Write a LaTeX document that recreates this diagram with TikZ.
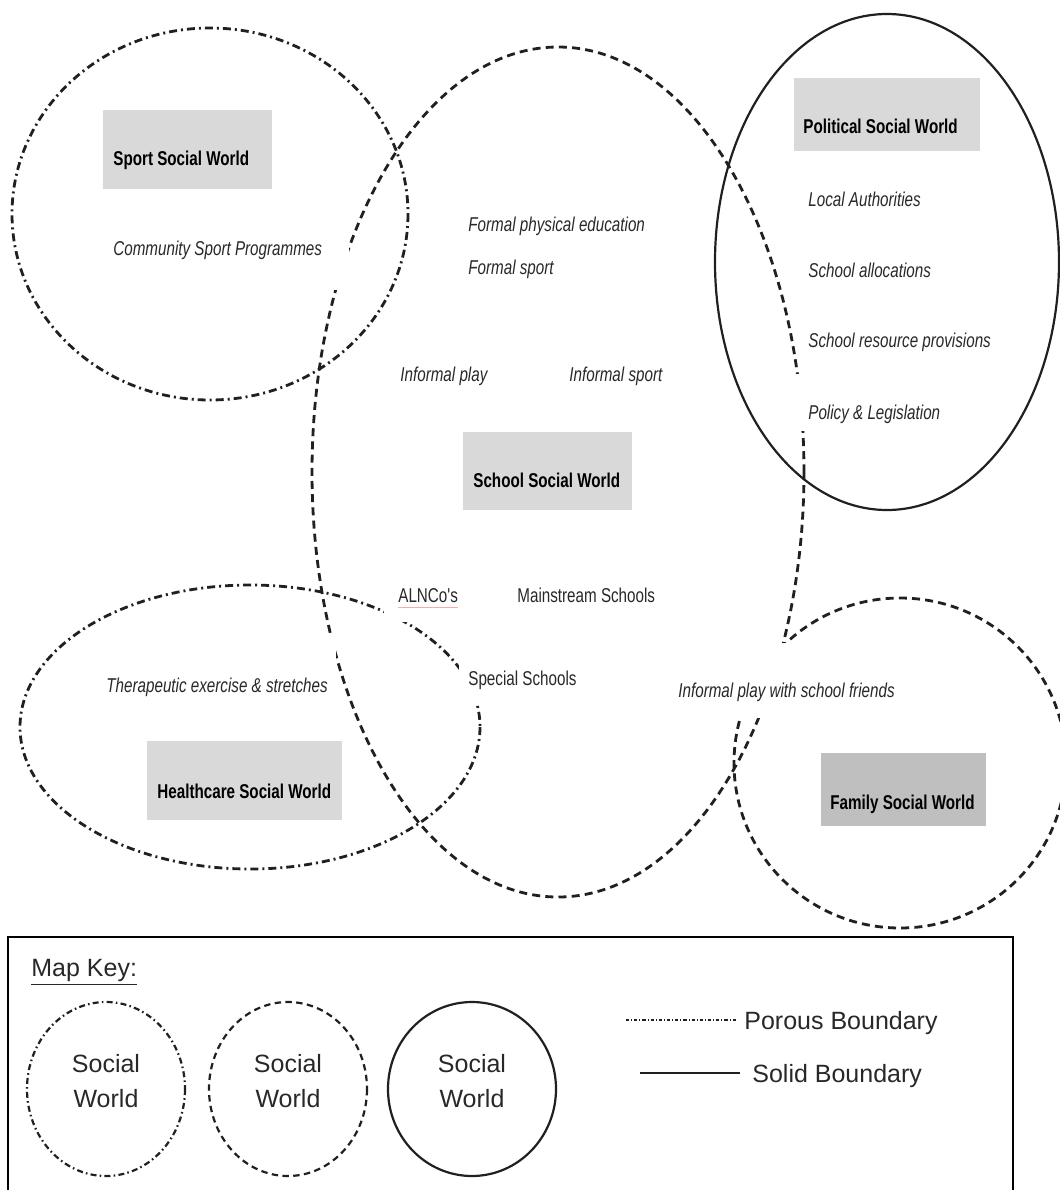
\documentclass[tikz,border=0pt]{standalone}
\usepackage{fontspec}
\setmainfont{Liberation Sans}
\newfontfamily\narrowfont[FakeStretch=0.76]{Liberation Sans}
\definecolor{linec}{HTML}{202020}
\definecolor{txtc}{HTML}{282828}
\definecolor{boxgray}{HTML}{D9D9D9}
\definecolor{boxdark}{HTML}{BFBFBF}
\begin{document}
\begin{tikzpicture}[x=0.5pt,y=-0.5pt,
  ln/.style={draw=linec, line width=1.4pt},
  porous/.style={ln, dash pattern=on 4pt off 2pt on 1pt off 2pt},
  dashb/.style={ln, dash pattern=on 4pt off 2.6pt},
  solidb/.style={draw=linec, line width=1.1pt},
  mask/.style={fill=white},
  itx/.style={font=\narrowfont\fontsize{10}{12}\selectfont\itshape, text=txtc, inner sep=0pt, text height=7.2pt, text depth=0pt, anchor=west},
  rtx/.style={font=\narrowfont\fontsize{10}{12}\selectfont, text=txtc, inner sep=0pt, text height=7.2pt, text depth=0pt, anchor=west},
  btx/.style={font=\narrowfont\fontsize{10}{12}\selectfont\bfseries, text=black, inner sep=0pt, text height=7.2pt, text depth=0pt, anchor=west},
  legtxt/.style={font=\fontsize{12.5}{17.5}\selectfont, text=txtc, align=center, inner sep=0pt},
  legline/.style={font=\fontsize{12.5}{15}\selectfont, text=txtc, inner sep=0pt, text height=9pt, text depth=0pt, anchor=west}
]
\useasboundingbox (0,0) rectangle (1060,1190);
\clip (0,0) rectangle (1060,1190);

% ---- social world boundaries ----
\draw[porous] (210,214) ellipse [x radius=198, y radius=186];   % sport
\draw[dashb]  (558,472) ellipse [x radius=246, y radius=425];   % school
\draw[solidb] (887,262) ellipse [x radius=172, y radius=248];   % political
\draw[porous] (250,727) ellipse [x radius=230, y radius=142];   % healthcare
\draw[dashb]  (900,763) ellipse [x radius=166, y radius=165];   % family

% ---- white text-box backgrounds that interrupt lines ----
\fill[mask] (90,207) rectangle (349,290);
\fill[mask] (670,643) rectangle (905,718);
\fill[mask] (384,578) rectangle (470,622);
\fill[mask] (459,655) rectangle (590,704);
\fill[mask] (95,636) rectangle (336,705);
\fill[mask] (795,374) rectangle (950,431);

% ---- grey title boxes ----
\fill[boxgray] (103,110) rectangle (272,189);
\fill[boxgray] (794,78) rectangle (980,151);
\fill[boxgray] (463,432) rectangle (632,510);
\fill[boxgray] (147,741) rectangle (342,820);
\fill[boxdark] (821,753) rectangle (986,826);

% ---- titles ----
\node[btx] (sport) at (113,158) {Sport Social World};
\node[btx] (political) at (803,126) {Political Social World};
\node[btx] (school) at (473,480) {School Social World};
\node[btx] (health) at (157,791) {Healthcare Social World};
\node[btx] (family) at (830,802) {Family Social World};

% ---- items ----
\node[itx] (csp) at (113,248) {Community Sport Programmes};
\node[itx] (fpe) at (468,224) {Formal physical education};
\node[itx] (fsp) at (468,267) {Formal sport};
\node[itx] (ipl) at (400,374) {Informal play};
\node[itx] (isp) at (569,374) {Informal sport};
\node[itx] (la) at (808,199) {Local Authorities};
\node[itx] (sa) at (808,270) {School allocations};
\node[itx] (srp) at (808,340) {School resource provisions};
\node[itx] (pl) at (808,412) {Policy \& Legislation};
\node[rtx] (alnco) at (398,595) {ALNCo's};
\draw[red!35, line width=0.4pt] ([yshift=-2.2pt]alnco.south west) -- ([yshift=-2.2pt]alnco.south east);
\node[rtx] (mainstream) at (517,595) {Mainstream Schools};
\node[rtx] (special) at (468,678) {Special Schools};
\node[itx] (ther) at (106,685) {Therapeutic exercise \& stretches};
\node[itx] (ipsf) at (678,690) {Informal play with school friends};

% ---- map key ----
\draw[line width=0.8pt, draw=black] (8,937) rectangle (1013,1210);
\node[legline] (mapkey) at (31,967) {\underline{Map Key:}};
\draw[porous, line width=1.1pt, dash pattern=on 3pt off 1.6pt on 0.8pt off 1.6pt] (106,1089) ellipse [x radius=79, y radius=87];
\draw[dashb, line width=1.1pt, dash pattern=on 3.2pt off 2.2pt] (288,1089) ellipse [x radius=79, y radius=87];
\draw[solidb] (472,1089) ellipse [x radius=84, y radius=87];
\node[legtxt] (k1) at (106,1081) {Social\\World};
\node[legtxt] (k2) at (288,1081) {Social\\World};
\node[legtxt] (k3) at (472,1081) {Social\\World};
\node[legline] (porous) at (744,1020) {Porous Boundary};
\node[legline] (solid) at (752,1073) {Solid Boundary};
\coordinate (pstart) at (626,1020);
\coordinate (sstart) at (640,1073);
\draw[draw=linec, line width=0.6pt, dash pattern=on 1.6pt off 1pt on 0.5pt off 1pt] (pstart) -- ([xshift=-4pt]porous.west);
\draw[draw=linec, line width=0.8pt] (sstart) -- ([xshift=-6pt]solid.west);
\end{tikzpicture}
\end{document}
